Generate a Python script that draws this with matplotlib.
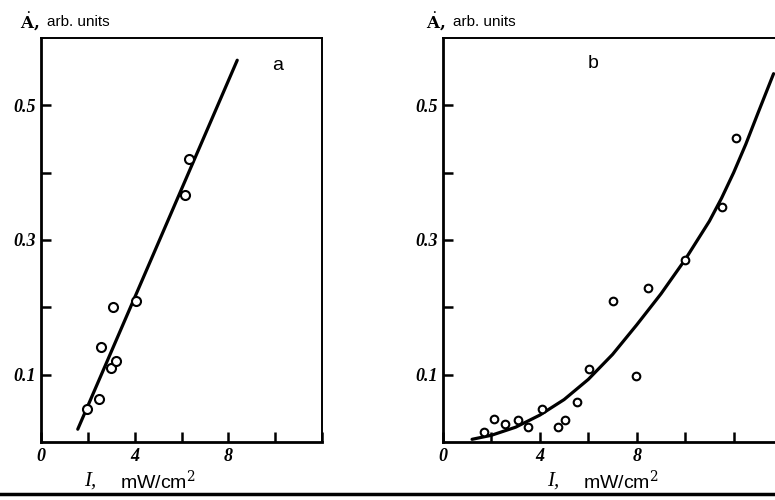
# Photo-response rate vs light intensity, two samples side by side

import matplotlib.pyplot as plt
from matplotlib.lines import Line2D

plt.rcParams['mathtext.fontset'] = 'dejavuserif'

# panel a: measured points and straight-line fit
a_intensity = [1.96, 2.47, 2.55, 2.98, 3.19, 3.06, 4.04, 6.17, 6.30]
a_rate = [0.049, 0.064, 0.141, 0.110, 0.120, 0.200, 0.210, 0.367, 0.420]
a_fit_x = [1.57, 8.38]
a_fit_y = [0.019, 0.567]

# panel b: measured points and smooth fit
b_intensity = [1.68, 2.12, 2.57, 3.11, 3.49, 4.07, 4.75, 5.03, 5.55, 6.01,
               7.96, 7.01, 8.48, 9.99, 11.53, 12.08]
b_rate = [0.015, 0.034, 0.026, 0.032, 0.022, 0.049, 0.023, 0.032, 0.060, 0.108,
          0.098, 0.210, 0.229, 0.271, 0.349, 0.452]
b_fit_x = [1.2, 2.0, 3.0, 4.0, 5.0, 6.0, 7.0, 8.0, 9.0, 10.0, 11.0, 11.5,
           12.0, 12.5, 13.0, 13.65]
b_fit_y = [0.004, 0.010, 0.022, 0.040, 0.063, 0.093, 0.130, 0.174, 0.220, 0.271,
           0.328, 0.362, 0.400, 0.442, 0.488, 0.547]

x_ticks = [0, 2, 4, 6, 8, 10, 12]
x_labels = ['0', '', '4', '', '8', '', '']
y_ticks = [0.1, 0.2, 0.3, 0.4, 0.5]
y_labels = ['0.1', '', '0.3', '', '0.5']

W, H = 775, 500
fig = plt.figure(figsize=(7.75, 5), dpi=100)

tick_font = dict(family=['Liberation Serif', 'DejaVu Serif'], style='italic',
                 weight='bold', size=13)


def setup(ax, xmax):
    ax.set_xlim(0, xmax)
    ax.set_ylim(0, 0.6)
    ax.set_xticks(x_ticks)
    ax.set_xticklabels(x_labels, **tick_font)
    ax.set_yticks(y_ticks)
    ax.set_yticklabels(y_labels, **tick_font)
    ax.tick_params(direction='in', length=7, width=1.8)
    ax.tick_params(axis='x', pad=4)
    ax.tick_params(axis='y', pad=4)
    for side in ['left', 'bottom']:
        ax.spines[side].set_linewidth(2.0)
    for side in ['top', 'right']:
        ax.spines[side].set_linewidth(1.4)


ax1 = fig.add_axes([41 / W, 1 - 442 / H, (322 - 41) / W, (442 - 38) / H])
setup(ax1, 12)
ax1.plot(a_fit_x, a_fit_y, color='black', lw=2.3, solid_capstyle='round')
ax1.plot(a_intensity, a_rate, 'o', mfc='white', mec='black', ms=6.5, mew=1.5)
ax1.text(278 / W, 1 - 65 / H, 'a', transform=fig.transFigure, fontsize=14,
         family='Liberation Sans', ha='center', va='center')

ax2 = fig.add_axes([443 / W, 1 - 442 / H, (776 - 443) / W, (442 - 38) / H])
setup(ax2, 13.75)
ax2.spines['right'].set_visible(False)
ax2.plot(b_fit_x, b_fit_y, color='black', lw=2.3, solid_capstyle='round',
         solid_joinstyle='round')
ax2.plot(b_intensity, b_rate, 'o', mfc='white', mec='black', ms=5.5, mew=1.5)
ax2.text(593 / W, 1 - 64 / H, 'b', transform=fig.transFigure, fontsize=14,
         family='Liberation Sans', ha='center', va='center')

# axis captions
for x0 in [20, 426]:
    fig.text(x0 / W, 1 - 21 / H, r'$\dot{\mathbf{A}}$,', fontsize=12,
             weight='bold', family='DejaVu Serif', va='center')
    fig.text((x0 + 27) / W, 1 - 22 / H, 'arb. units', fontsize=11,
             family='Liberation Sans', va='center')

for x0 in [84, 547]:
    fig.text(x0 / W, 1 - 481 / H, 'I,', fontsize=15, style='italic',
             family=['Liberation Serif', 'DejaVu Serif'], va='center')
    fig.text((x0 + 36) / W, 1 - 481 / H, 'mW/cm$^2$', fontsize=14,
             family='Liberation Sans', va='center')

# rule under the figure
fig.add_artist(Line2D([0, 1], [1 - 494 / H, 1 - 494 / H], color='black', lw=2.5,
                      transform=fig.transFigure))

fig.savefig('out.png', dpi=100)
